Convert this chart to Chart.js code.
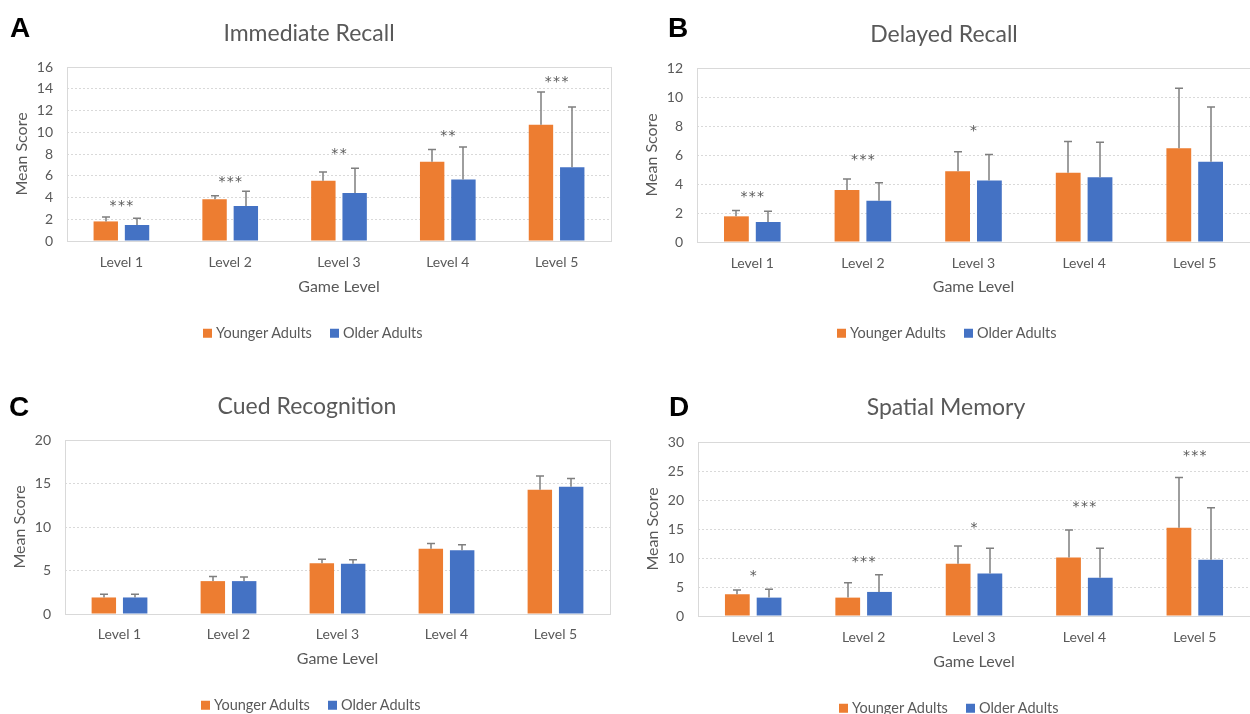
<!DOCTYPE html>
<html><head><meta charset="utf-8">
<script src="https://cdn.jsdelivr.net/npm/chart.js@4.4.1/dist/chart.umd.min.js"></script>
<style>
html,body{margin:0;padding:0;background:#fff;overflow:hidden;width:1250px;height:714px;position:relative;}
canvas{position:absolute;}
.letter{position:absolute;font-family:"Liberation Sans",Arial,sans-serif;font-weight:bold;font-size:28px;color:#000;line-height:1;}
.title{position:absolute;font-family:Lato,sans-serif;font-size:23px;color:#595959;white-space:nowrap;transform:translate(-50%,-50%);line-height:1;}
.legend{position:absolute;font-family:Lato,sans-serif;font-size:14.5px;color:#595959;display:flex;align-items:center;white-space:nowrap;transform:translateY(-50%);line-height:1;}
.sw{width:9px;height:9px;display:inline-block;margin-right:4px;}
.gap{display:inline-block;width:18px;}
</style>
</head>
<body>
<script>
// ---------- data ----------
const levels = ["Level 1", "Level 2", "Level 3", "Level 4", "Level 5"];
const seriesNames = ["Younger Adults", "Older Adults"];
const panelLetters = ["A", "B", "C", "D"];
const panelTitles = ["Immediate Recall", "Delayed Recall", "Cued Recognition", "Spatial Memory"];
const xTitle = "Game Level";
const yTitle = "Mean Score";
const yMax = [16, 12, 20, 30];
const yStep = [2, 2, 5, 5];

// Immediate Recall
const immYoung = [1.8, 3.85, 5.55, 7.28, 10.68];
const immYoungSD = [0.4, 0.32, 0.8, 1.14, 3.02];
const immOld = [1.47, 3.22, 4.42, 5.65, 6.78];
const immOldSD = [0.63, 1.35, 2.26, 3.0, 5.54];
const immStars = ["***", "***", "**", "**", "***"];
const immStarY = [3.6, 5.8, 8.35, 10.0, 15.0];

// Delayed Recall
const delYoung = [1.77, 3.58, 4.88, 4.78, 6.47];
const delYoungSD = [0.41, 0.76, 1.35, 2.15, 4.13];
const delOld = [1.38, 2.85, 4.25, 4.46, 5.54];
const delOldSD = [0.74, 1.24, 1.78, 2.42, 3.77];
const delStars = ["***", "***", "*", "", ""];
const delStarY = [3.4, 5.93, 7.96, 0, 0];

// Cued Recognition
const cueYoung = [1.9, 3.78, 5.82, 7.5, 14.28];
const cueYoungSD = [0.38, 0.54, 0.46, 0.6, 1.59];
const cueOld = [1.9, 3.78, 5.78, 7.32, 14.63];
const cueOldSD = [0.38, 0.46, 0.46, 0.65, 0.95];
const cueStars = ["", "", "", "", ""];
const cueStarY = [0, 0, 0, 0, 0];

// Spatial Memory
const spaYoung = [3.75, 3.17, 9.03, 10.1, 15.2];
const spaYoungSD = [0.75, 2.55, 3.02, 4.72, 8.7];
const spaOld = [3.17, 4.15, 7.33, 6.58, 9.7];
const spaOldSD = [1.45, 2.95, 4.37, 5.12, 8.97];
const spaStars = ["*", "***", "*", "***", "***"];
const spaStarY = [7.6, 10.0, 15.8, 19.4, 28.3];

// ---------- styles / layout ----------
const ORANGE = "#ED7D31", BLUE = "#4472C4", TXT = "#595959", GRID = "#D9D9D9";

const panels = [
  {young: immYoung, youngSD: immYoungSD, old: immOld, oldSD: immOldSD, stars: immStars, starY: immStarY,
   left: 0, top: 0, yW: 67, pad: {top: 67, right: 14, bottom: 60.4, left: 0}, xH: 55.6, labPad: 12.6, yTitlePad: 12.4,
   letter: [10, 14], title: [309, 31.5], legend: [203, 333]},
  {young: delYoung, youngSD: delYoungSD, old: delOld, oldSD: delOldSD, stars: delStars, starY: delStarY,
   left: 625, top: 0, yW: 72, pad: {top: 68, right: 0, bottom: 60.4, left: 0}, xH: 54.6, labPad: 12.6, yTitlePad: 17.4,
   letter: [668, 14], title: [944, 33], legend: [837, 333]},
  {young: cueYoung, youngSD: cueYoungSD, old: cueOld, oldSD: cueOldSD, stars: cueStars, starY: cueStarY,
   left: 0, top: 357, yW: 65, pad: {top: 83, right: 15, bottom: 45.4, left: 0}, xH: 54.6, labPad: 11.6, yTitlePad: 10.4,
   letter: [9, 393], title: [307, 404.5], legend: [201, 705]},
  {young: spaYoung, youngSD: spaYoungSD, old: spaOld, oldSD: spaOldSD, stars: spaStars, starY: spaStarY,
   left: 625, top: 357, yW: 73, pad: {top: 85, right: 0, bottom: 42.4, left: 0}, xH: 55.6, labPad: 12.6, yTitlePad: 18.4,
   letter: [669, 393], title: [946, 405.5], legend: [839, 708]}
];

const annotPlugin = {
  id: "annot",
  beforeDatasetsDraw(chart) {
    const a = chart.chartArea, ctx = chart.ctx;
    ctx.save();
    ctx.strokeStyle = GRID; ctx.lineWidth = 1;
    ctx.strokeRect(Math.round(a.left) + 0.5, Math.round(a.top) + 0.5, Math.round(a.right - a.left), Math.round(a.bottom - a.top));
    ctx.restore();
  },
  afterDatasetsDraw(chart) {
    const ctx = chart.ctx, ys = chart.scales.y, xs = chart.scales.x;
    const o = chart.options.plugins.annot;
    ctx.save();
    ctx.strokeStyle = "#7F7F7F"; ctx.lineWidth = 1.5;
    chart.data.datasets.forEach((ds, i) => {
      const meta = chart.getDatasetMeta(i);
      meta.data.forEach((bar, j) => {
        const x = Math.round(bar.x);
        const t = ys.getPixelForValue(ds.data[j] + ds.sd[j]);
        ctx.beginPath();
        ctx.moveTo(x, bar.y); ctx.lineTo(x, t);
        ctx.moveTo(x - 4, t); ctx.lineTo(x + 4, t);
        ctx.stroke();
      });
    });
    ctx.fillStyle = TXT; ctx.font = "14px 'DejaVu Sans'"; ctx.textAlign = "center"; ctx.textBaseline = "alphabetic";
    o.stars.forEach((s, j) => {
      if (!s) return;
      const cx = xs.getPixelForValue(j), cy = ys.getPixelForValue(o.starY[j]);
      for (let k = 0; k < s.length; k++) {
        ctx.fillText("*", cx + (k - (s.length - 1) / 2) * 8.3, cy + 8);
      }
    });
    ctx.restore();
  }
};

panels.forEach((p, idx) => {
  const c = document.createElement("canvas");
  c.width = 625; c.height = 357;
  c.style.left = p.left + "px"; c.style.top = p.top + "px";
  document.body.appendChild(c);

  const L = document.createElement("div"); L.className = "letter"; L.textContent = panelLetters[idx];
  L.style.left = p.letter[0] + "px"; L.style.top = p.letter[1] + "px"; document.body.appendChild(L);

  const T = document.createElement("div"); T.className = "title"; T.textContent = panelTitles[idx];
  T.style.left = p.title[0] + "px"; T.style.top = p.title[1] + "px"; document.body.appendChild(T);

  const G = document.createElement("div"); G.className = "legend";
  G.style.left = p.legend[0] + "px"; G.style.top = p.legend[1] + "px";
  G.innerHTML = '<span class="sw" style="background:' + ORANGE + '"></span>' + seriesNames[0] +
    '<span class="gap"></span><span class="sw" style="background:' + BLUE + '"></span>' + seriesNames[1];
  document.body.appendChild(G);

  new Chart(c, {
    type: "bar",
    data: {
      labels: levels,
      datasets: [
        {label: seriesNames[0], data: p.young, sd: p.youngSD, backgroundColor: ORANGE, borderWidth: 0,
         categoryPercentage: 0.575, barPercentage: 0.78},
        {label: seriesNames[1], data: p.old, sd: p.oldSD, backgroundColor: BLUE, borderWidth: 0,
         categoryPercentage: 0.575, barPercentage: 0.78}
      ]
    },
    options: {
      responsive: false, animation: false, devicePixelRatio: 1,
      layout: {padding: p.pad},
      plugins: {
        legend: {display: false}, title: {display: false}, tooltip: {enabled: false},
        annot: {stars: p.stars, starY: p.starY}
      },
      scales: {
        x: {
          grid: {display: false, drawTicks: false},
          border: {display: false},
          ticks: {color: TXT, font: {family: "Lato", size: 14}, padding: p.labPad, maxRotation: 0},
          title: {display: true, text: xTitle, color: TXT, font: {family: "Lato", size: 16}, padding: {top: 0, bottom: 0}},
          afterFit(s) { s.height = p.xH; }
        },
        y: {
          min: 0, max: yMax[idx],
          grid: {color: GRID, drawTicks: false, lineWidth: 1},
          border: {display: false, dash: [2, 2]},
          ticks: {stepSize: yStep[idx], color: TXT, font: {family: "Lato", size: 14}, padding: 14},
          title: {display: true, text: yTitle, color: TXT, font: {family: "Lato", size: 16}, padding: {top: p.yTitlePad, bottom: 0}},
          afterFit(s) { s.width = p.yW; }
        }
      }
    },
    plugins: [annotPlugin]
  });
});
</script>
</body></html>
